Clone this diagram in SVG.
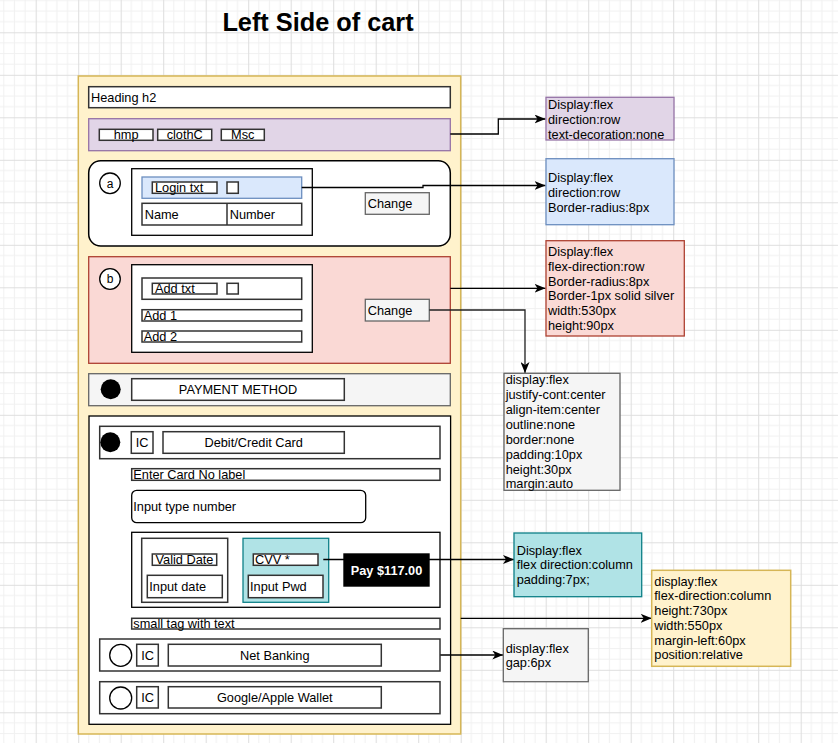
<svg xmlns="http://www.w3.org/2000/svg" width="838" height="743" viewBox="0 0 838 743">
<defs>
<pattern id="grid" x="35.7" y="32.3" width="42.5" height="42.5" patternUnits="userSpaceOnUse">
<rect width="42.5" height="42.5" fill="#fff"/>
<path d="M10.625,0V42.5M21.25,0V42.5M31.875,0V42.5M0,10.625H42.5M0,21.25H42.5M0,31.875H42.5" stroke="#f1f1f1" stroke-width="1" fill="none"/>
<path d="M0.5,0V42.5M0,0.5H42.5" stroke="#dedede" stroke-width="1" fill="none"/>
</pattern>
<marker id="arr" viewBox="0 0 11 9" refX="11" refY="4.5" markerWidth="11" markerHeight="9" markerUnits="userSpaceOnUse" orient="auto">
<path d="M0,0 L11,4.5 L0,9 L3,4.5 z" fill="#000"/>
</marker>
</defs>
<style>
text{font-family:"Liberation Sans",Arial,Helvetica,sans-serif;font-size:12.75px;fill:#000}
.c{text-anchor:middle}
.w{fill:#fff;stroke:#333;stroke-width:1.5}
.k{fill:#fff;stroke:#000;stroke-width:1.3}
.gr{fill:#f5f5f5;stroke:#666;stroke-width:1.3}
.pu{fill:#e1d5e7;stroke:#9673a6;stroke-width:1.3}
.bl{fill:#dae8fc;stroke:#6c8ebf;stroke-width:1.3}
.rd{fill:#fad9d5;stroke:#ae4132;stroke-width:1.3}
.te{fill:#b0e3e6;stroke:#0e8088;stroke-width:1.3}
.ye{fill:#fff2cc;stroke:#d6b656;stroke-width:1.5}
.ln{fill:none;stroke:#000;stroke-width:1.3;marker-end:url(#arr)}
</style>
<rect width="838" height="743" fill="url(#grid)"/>
<text x="318" y="30.7" class="c" style="font-size:25.3px;font-weight:bold">Left Side of cart</text>

<g id="container">
<rect class="ye" x="78.3" y="76" width="382.4" height="658"/>
</g>
<g id="heading">
<rect class="w" x="88.7" y="86.7" width="361.6" height="21"/>
<text x="91" y="101.7">Heading h2</text>
</g>
<g id="nav">
<rect class="pu" x="88.7" y="118.7" width="361.6" height="32"/>
<rect class="w" x="99.3" y="129.3" width="53.7" height="11"/>
<text x="126.2" y="139.3" class="c">hmp</text>
<rect class="w" x="157.7" y="129.3" width="54" height="11"/>
<text x="184.7" y="139.3" class="c">clothC</text>
<rect class="w" x="221.3" y="129.3" width="43" height="11"/>
<text x="242.8" y="139.3" class="c">Msc</text>
</g>
<g id="section-a">
<rect x="88.7" y="160.7" width="361.6" height="85.3" rx="12" fill="#fff" stroke="#000" stroke-width="1.5"/>
<circle cx="110" cy="183.3" r="10.3" class="k"/>
<text x="110" y="187.6" class="c" style="font-size:12px">a</text>
<rect class="k" x="131.7" y="168.7" width="180.6" height="66.6"/>
<rect class="bl" x="142" y="177" width="159.7" height="21.3"/>
<rect class="w" x="152.3" y="182" width="64.7" height="11.3"/>
<text x="155" y="192">Login txt</text>
<rect class="w" x="227" y="182" width="11.3" height="11.3"/>
<rect class="w" x="142" y="203.3" width="159.7" height="21.7"/>
<line x1="227" y1="203.3" x2="227" y2="225" stroke="#333" stroke-width="1.5"/>
<text x="144.7" y="218.6">Name</text>
<text x="229.7" y="218.6">Number</text>
<rect class="gr" x="365.3" y="192.7" width="64" height="21.6"/>
<text x="367.7" y="208">Change</text>
</g>
<g id="section-b">
<rect class="rd" x="88.7" y="256.7" width="361.6" height="106.6"/>
<circle cx="110" cy="279" r="10.3" class="k"/>
<text x="110" y="283.3" class="c" style="font-size:12px">b</text>
<rect class="k" x="131.7" y="264.7" width="180.6" height="87.6"/>
<rect class="w" x="142" y="278" width="159.7" height="21.3"/>
<rect class="w" x="152.3" y="283.3" width="64.7" height="10.7"/>
<text x="155" y="293">Add txt</text>
<rect class="w" x="227" y="283.3" width="11.3" height="10.7"/>
<rect class="w" x="142" y="309.7" width="159.7" height="11.3"/>
<text x="143.7" y="319.8">Add 1</text>
<rect class="w" x="142" y="331" width="159.7" height="11"/>
<text x="143.7" y="341">Add 2</text>
<rect class="gr" x="365.3" y="299.3" width="64" height="21.7"/>
<text x="367.7" y="314.7">Change</text>
</g>
<g id="payment-method">
<rect class="gr" x="88.7" y="373.7" width="361.6" height="32"/>
<circle cx="110.7" cy="389.3" r="10" fill="#000"/>
<rect class="w" x="131.7" y="378.7" width="212.6" height="21.6"/>
<text x="238" y="394" class="c">PAYMENT METHOD</text>
</g>
<g id="payment-box">
<rect class="k" x="89" y="416" width="361.6" height="308.3"/>
</g>
<g id="debit">
<rect class="w" x="99.7" y="426.3" width="340.3" height="32.4"/>
<circle cx="110.3" cy="442.3" r="10" fill="#000"/>
<rect class="w" x="131.3" y="431.7" width="21.7" height="21.6"/>
<text x="142.2" y="447" class="c">IC</text>
<rect class="w" x="163" y="431.7" width="181.3" height="21.6"/>
<text x="253.7" y="447" class="c">Debit/Credit Card</text>
</g>
<g id="card-label">
<rect class="w" x="131.7" y="468.7" width="308.3" height="11.6"/>
<text x="133.3" y="479">Enter Card No label</text>
</g>
<g id="card-input">
<rect x="131.7" y="490.3" width="234" height="32.4" rx="5" fill="#fff" stroke="#000" stroke-width="1.3"/>
<text x="133.3" y="511">Input type number</text>
</g>
<g id="card-details">
<rect class="k" x="131.7" y="532.3" width="308.3" height="75"/>
</g>
<g id="valid-date">
<rect class="w" x="141.7" y="538.3" width="86" height="64"/>
<rect class="w" x="152.3" y="554" width="64.4" height="11.3"/>
<text x="184.5" y="564" class="c">Valid Date</text>
<rect class="w" x="147.3" y="575.3" width="75" height="22.4"/>
<text x="149.3" y="591">Input date</text>
</g>
<g id="cvv">
<rect class="te" x="243" y="538.3" width="85.7" height="64"/>
<rect class="w" x="253.3" y="554" width="64.7" height="11.3"/>
<text x="255" y="564">CVV *</text>
<rect class="w" x="248.3" y="575.3" width="74.7" height="22.4"/>
<text x="250" y="591">Input Pwd</text>
</g>
<g id="connectors">
<path class="ln" d="M450.3,134H498.3V119H545.5"/>
<path class="ln" d="M301.7,187.5H423V185.5H545.5"/>
<path class="ln" d="M450.3,288.3H545.5"/>
<path class="ln" d="M429.3,310H525V373" style="stroke:#222"/>
<path class="ln" d="M323.3,559.5H514"/>
<path class="ln" d="M460.7,618.3H651.7"/>
<path class="ln" d="M440,655H503.3"/>
</g>
<g id="pay">
<rect x="343.3" y="553.3" width="86.4" height="33.4" fill="#000"/>
<text x="386.5" y="574.5" class="c" style="fill:#fff;font-weight:bold">Pay $117.00</text>
</g>
<g id="small-tag">
<rect class="w" x="131.7" y="618.3" width="308.3" height="10.7"/>
<text x="133.3" y="628">small tag with text</text>
</g>
<g id="net-banking">
<rect class="w" x="99.7" y="639" width="340.3" height="32"/>
<circle cx="120.7" cy="655.3" r="11" class="k"/>
<rect class="w" x="136.7" y="644.3" width="21.6" height="21.7"/>
<text x="147.5" y="659.8" class="c">IC</text>
<rect class="w" x="168.3" y="644.3" width="213" height="21.7"/>
<text x="274.8" y="659.8" class="c">Net Banking</text>
</g>
<g id="wallet">
<rect class="w" x="99.7" y="681.7" width="340.3" height="32"/>
<circle cx="120.7" cy="698" r="11" class="k"/>
<rect class="w" x="136.7" y="686.7" width="21.6" height="21.3"/>
<text x="147.5" y="702" class="c">IC</text>
<rect class="w" x="168.3" y="686.7" width="213" height="21.3"/>
<text x="274.8" y="702" class="c">Google/Apple Wallet</text>
</g>

<g id="note-nav">
<rect class="pu" x="546" y="97.3" width="128" height="42.7"/>
<text x="548" y="109.2">Display:flex</text>
<text x="548" y="123.9">direction:row</text>
<text x="548" y="138.6">text-decoration:none</text>
</g>
<g id="note-a">
<rect class="bl" x="546" y="158.7" width="128" height="66"/>
<text x="548" y="182.4">Display:flex</text>
<text x="548" y="197.1">direction:row</text>
<text x="548" y="211.8">Border-radius:8px</text>
</g>
<g id="note-b">
<rect class="rd" x="546" y="240.7" width="138.3" height="95.3"/>
<text x="548" y="256">Display:flex</text>
<text x="548" y="270.8">flex-direction:row</text>
<text x="548" y="285.6">Border-radius:8px</text>
<text x="548" y="300.4">Border-1px solid silver</text>
<text x="548" y="315.2">width:530px</text>
<text x="548" y="330">height:90px</text>
</g>
<g id="note-change">
<rect class="gr" x="504" y="373.3" width="116" height="117"/>
<text x="505.7" y="384.3">display:flex</text>
<text x="505.7" y="399.2">justify-cont:center</text>
<text x="505.7" y="414">align-item:center</text>
<text x="505.7" y="428.9">outline:none</text>
<text x="505.7" y="443.7">border:none</text>
<text x="505.7" y="458.6">padding:10px</text>
<text x="505.7" y="473.5">height:30px</text>
<text x="505.7" y="488.3">margin:auto</text>
</g>
<g id="note-cvv">
<rect class="te" x="514" y="533" width="127.7" height="63.7"/>
<text x="516.7" y="554.6">Display:flex</text>
<text x="516.7" y="569.4">flex direction:column</text>
<text x="516.7" y="584.2">padding:7px;</text>
</g>
<g id="note-container">
<rect class="ye" x="651.7" y="570.3" width="139" height="96"/>
<text x="654.3" y="585.7">display:flex</text>
<text x="654.3" y="600.4">flex-direction:column</text>
<text x="654.3" y="615.1">height:730px</text>
<text x="654.3" y="629.8">width:550px</text>
<text x="654.3" y="644.5">margin-left:60px</text>
<text x="654.3" y="659.2">position:relative</text>
</g>
<g id="note-net">
<rect class="gr" x="503.3" y="628.7" width="85" height="53"/>
<text x="505.7" y="653.3">display:flex</text>
<text x="505.7" y="667">gap:6px</text>
</g>
</svg>
